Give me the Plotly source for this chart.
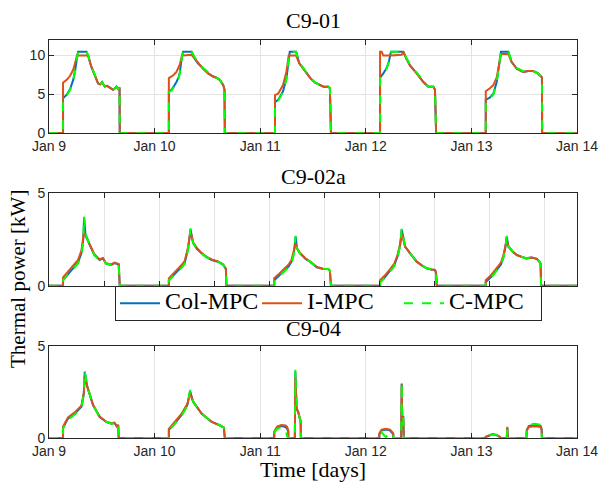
import plotly.graph_objects as go

# ---------------- data ----------------
tick_days = [9, 10, 11, 12, 13, 14]
tick_labels = ["Jan 9", "Jan 10", "Jan 11", "Jan 12", "Jan 13", "Jan 14"]
mid_ticks = [9.521, 10.043, 10.564, 11.085, 11.607, 12.128, 12.649, 13.171, 13.692]
panel_titles = ["C9-01", "C9-02a", "C9-04"]
series_names = ["Col-MPC", "I-MPC", "C-MPC"]
y_ranges = [[0, 12], [0, 5], [0, 5]]
y_ticks = [[0, 5, 10], [0, 5], [0, 5]]

# C9-01
t_c901 = [9.0, 9.133, 9.133, 9.17, 9.20, 9.23, 9.25, 9.265, 9.275, 9.355, 9.37, 9.40, 9.43, 9.465, 9.485, 9.503, 9.515, 9.528, 9.55, 9.575, 9.59, 9.607, 9.625, 9.639, 9.655, 9.668, 9.670,
          10.135, 10.135, 10.16, 10.18, 10.207, 10.23, 10.24, 10.26, 10.27, 10.35, 10.38, 10.41, 10.46, 10.507, 10.555, 10.587, 10.618, 10.65, 10.662, 10.665,
          11.14, 11.14, 11.17, 11.216, 11.248, 11.27, 11.28, 11.34, 11.37, 11.42, 11.475, 11.52, 11.566, 11.60, 11.645, 11.66, 11.67,
          12.135, 12.135, 12.15, 12.166, 12.197, 12.22, 12.238, 12.34, 12.356, 12.38, 12.42, 12.482, 12.545, 12.593, 12.64, 12.655, 12.666,
          13.136, 13.136, 13.175, 13.208, 13.24, 13.26, 13.28, 13.35, 13.38, 13.43, 13.49, 13.54, 13.587, 13.63, 13.655, 13.668, 13.67, 14.0]
col_c901 = [0, 0, 4.5, 5.0, 5.7, 6.9, 8.3, 9.7, 10.5, 10.5, 10.0, 8.6, 7.5, 6.4, 6.3, 6.6, 6.3, 6.0, 6.1, 5.9, 5.8, 5.6, 5.8, 6.0, 5.7, 5.9, 0,
            0, 5.4, 5.6, 6.0, 6.6, 7.3, 7.9, 10.0, 10.5, 10.5, 9.6, 9.0, 8.3, 7.7, 7.3, 7.15, 6.85, 6.2, 5.6, 0,
            0, 4.0, 4.3, 5.4, 7.0, 9.8, 10.5, 10.5, 9.0, 8.1, 7.1, 6.5, 6.2, 6.0, 6.0, 5.8, 0,
            0, 7.15, 7.4, 7.7, 8.4, 9.3, 10.5, 10.5, 10.5, 9.7, 8.7, 7.7, 6.6, 6.0, 6.0, 5.6, 0,
            0, 4.3, 4.6, 5.1, 6.6, 8.7, 10.5, 10.5, 9.2, 8.3, 7.9, 8.0, 8.0, 7.7, 7.4, 7.2, 0, 0]
imp_c901 = [0, 0, 6.5, 6.9, 7.4, 8.2, 9.2, 10.0, 10.0, 10.0, 10.0, 8.6, 7.5, 6.4, 6.3, 6.6, 6.3, 6.0, 6.1, 5.9, 5.8, 5.6, 5.8, 6.0, 5.7, 5.9, 0,
            0, 7.1, 7.3, 7.5, 7.9, 8.5, 8.9, 10.0, 10.0, 10.1, 9.6, 9.0, 8.3, 7.7, 7.3, 7.15, 6.85, 6.2, 5.6, 0,
            0, 4.9, 5.1, 6.2, 7.9, 10.0, 10.0, 10.0, 9.0, 8.1, 7.1, 6.5, 6.2, 6.0, 6.0, 5.8, 0,
            0, 10.5, 10.5, 10.0, 10.0, 10.0, 10.0, 10.1, 10.5, 9.7, 8.7, 7.7, 6.6, 6.0, 6.0, 5.6, 0,
            0, 5.4, 5.8, 6.2, 7.2, 9.0, 10.2, 10.2, 9.2, 8.3, 7.9, 8.0, 8.0, 7.7, 7.4, 7.2, 0, 0]
cmp_c901 = [0, 0, 4.5, 4.9, 5.6, 6.8, 8.2, 9.6, 10.5, 10.5, 10.1, 8.7, 7.6, 6.5, 6.3, 6.6, 6.3, 6.0, 6.1, 5.9, 5.8, 5.6, 5.8, 6.0, 5.7, 5.9, 0,
            0, 5.3, 5.5, 5.9, 6.5, 7.2, 7.8, 9.9, 10.5, 10.5, 9.7, 9.1, 8.4, 7.8, 7.3, 7.15, 6.9, 6.2, 5.6, 0,
            0, 3.9, 4.2, 5.3, 6.9, 9.7, 10.5, 10.5, 9.1, 8.2, 7.1, 6.5, 6.2, 6.0, 6.0, 5.8, 0,
            0, 7.1, 7.3, 7.6, 8.3, 9.2, 10.5, 10.5, 10.5, 9.8, 8.8, 7.8, 6.7, 6.0, 6.0, 5.6, 0,
            0, 4.2, 4.5, 5.0, 6.5, 8.6, 10.5, 10.5, 9.3, 8.4, 8.0, 8.1, 8.0, 7.7, 7.4, 7.2, 0, 0]

# C9-02a
t_c902 = [9.0, 9.133, 9.133, 9.17, 9.212, 9.25, 9.275, 9.307, 9.325, 9.332, 9.345, 9.386, 9.43, 9.48, 9.51, 9.54, 9.59, 9.62, 9.66, 9.67,
          10.135, 10.135, 10.18, 10.223, 10.26, 10.286, 10.317, 10.34, 10.365, 10.40, 10.444, 10.49, 10.54, 10.6, 10.65, 10.675, 10.68,
          11.133, 11.133, 11.18, 11.234, 11.27, 11.297, 11.32, 11.335, 11.35, 11.376, 11.43, 11.471, 11.535, 11.597, 11.645, 11.66, 11.67,
          12.135, 12.135, 12.18, 12.23, 12.27, 12.3, 12.325, 12.34, 12.372, 12.42, 12.482, 12.53, 12.577, 12.62, 12.655, 12.665, 12.672,
          13.136, 13.136, 13.19, 13.24, 13.28, 13.303, 13.32, 13.335, 13.35, 13.39, 13.43, 13.48, 13.52, 13.57, 13.62, 13.643, 13.655, 13.66, 14.0]
col_c902 = [0, 0, 0.3, 0.55, 0.8, 1.05, 1.25, 1.75, 2.5, 3.7, 2.8, 2.2, 1.66, 1.39, 1.48, 1.2, 1.12, 1.22, 1.15, 0,
            0, 0.3, 0.55, 0.8, 1.05, 1.25, 2.0, 3.05, 2.3, 2.0, 1.75, 1.55, 1.39, 1.3, 1.12, 0.9, 0,
            0, 0.3, 0.55, 0.85, 1.05, 1.3, 1.8, 2.65, 2.0, 1.75, 1.45, 1.3, 1.0, 0.9, 0.9, 0.8, 0,
            0, 0.2, 0.45, 0.8, 1.1, 1.57, 2.2, 3.05, 2.12, 1.75, 1.3, 1.1, 0.94, 0.88, 0.85, 0.7, 0,
            0, 0.2, 0.5, 0.85, 1.15, 1.57, 2.0, 2.65, 2.12, 1.85, 1.66, 1.55, 1.48, 1.53, 1.45, 1.3, 1.2, 0, 0]
imp_c902 = [0, 0, 0.45, 0.7, 0.95, 1.2, 1.4, 1.9, 2.7, 2.95, 2.7, 2.25, 1.7, 1.42, 1.5, 1.22, 1.15, 1.25, 1.18, 0,
            0, 0.4, 0.65, 0.9, 1.15, 1.35, 2.1, 2.95, 2.35, 2.05, 1.78, 1.58, 1.42, 1.32, 1.15, 0.92, 0,
            0, 0.4, 0.65, 0.95, 1.15, 1.4, 1.9, 2.3, 2.0, 1.78, 1.47, 1.32, 1.02, 0.92, 0.9, 0.8, 0,
            0, 0.3, 0.55, 0.9, 1.2, 1.65, 2.25, 2.8, 2.12, 1.75, 1.3, 1.1, 0.94, 0.88, 0.85, 0.7, 0,
            0, 0.3, 0.6, 0.95, 1.25, 1.65, 2.05, 2.5, 2.12, 1.85, 1.66, 1.55, 1.48, 1.53, 1.45, 1.3, 1.2, 0, 0]
cmp_c902 = [0, 0, 0.3, 0.52, 0.78, 1.0, 1.2, 1.7, 2.4, 3.75, 2.8, 2.2, 1.64, 1.38, 1.46, 1.2, 1.12, 1.22, 1.15, 0,
            0, 0.28, 0.52, 0.77, 1.0, 1.2, 1.95, 3.1, 2.3, 2.0, 1.75, 1.55, 1.39, 1.3, 1.12, 0.9, 0,
            0, 0.28, 0.52, 0.8, 1.0, 1.25, 1.75, 2.7, 2.0, 1.75, 1.45, 1.3, 1.0, 0.9, 0.9, 0.8, 0,
            0, 0.18, 0.42, 0.75, 1.05, 1.5, 2.15, 3.1, 2.12, 1.75, 1.3, 1.1, 0.94, 0.88, 0.85, 0.7, 0,
            0, 0.18, 0.45, 0.8, 1.1, 1.5, 1.95, 2.7, 2.12, 1.85, 1.66, 1.55, 1.48, 1.53, 1.45, 1.3, 1.2, 0, 0]

# C9-04
t_c904 = [9.0, 9.133, 9.133, 9.18, 9.25, 9.307, 9.33, 9.338, 9.363, 9.417, 9.48, 9.543, 9.59, 9.62, 9.645, 9.655, 9.66,
          10.135, 10.135, 10.19, 10.254, 10.31, 10.336, 10.365, 10.444, 10.54, 10.618, 10.656, 10.665,
          11.133, 11.133, 11.16, 11.2, 11.24, 11.255, 11.266, 11.266, 11.328, 11.333, 11.345, 11.36, 11.375, 11.383, 11.385,
          12.128, 12.128, 12.15, 12.19, 12.23, 12.26, 12.26, 12.335, 12.34, 12.345, 12.355, 12.36,
          13.136, 13.136, 13.17, 13.2, 13.24, 13.27, 13.27, 13.335, 13.34, 13.345, 13.52, 13.525, 13.545, 13.6, 13.655, 13.665, 13.668, 14.0]
col_c904 = [0, 0, 0.56, 1.05, 1.36, 1.69, 2.4, 3.59, 2.77, 1.78, 1.14, 0.87, 0.78, 0.81, 0.6, 0.7, 0,
            0, 0.45, 0.78, 1.23, 1.78, 2.55, 1.96, 1.32, 0.87, 0.69, 0.56, 0,
            0, 0.3, 0.55, 0.65, 0.6, 0.5, 0.35, 0, 0, 3.6, 1.6, 1.4, 1.0, 0.9, 0,
            0, 0.2, 0.4, 0.46, 0.4, 0.2, 0, 0, 2.95, 1.0, 1.2, 0,
            0, 0.05, 0.15, 0.2, 0.15, 0.05, 0, 0, 0.55, 0, 0, 0.45, 0.65, 0.7, 0.65, 0.5, 0, 0]
imp_c904 = [0, 0, 0.62, 1.12, 1.42, 1.75, 2.45, 3.3, 2.77, 1.8, 1.16, 0.88, 0.8, 0.83, 0.62, 0.72, 0,
            0, 0.5, 0.85, 1.3, 1.85, 2.4, 1.98, 1.34, 0.88, 0.7, 0.57, 0,
            0, 0.35, 0.62, 0.7, 0.68, 0.6, 0.4, 0, 0, 3.3, 1.6, 1.4, 1.0, 0.9, 0,
            0, 0.25, 0.45, 0.5, 0.45, 0.25, 0, 0, 2.9, 0.9, 1.0, 0,
            0, 0.07, 0.17, 0.22, 0.17, 0.07, 0, 0, 0.6, 0, 0, 0.4, 0.6, 0.64, 0.6, 0.45, 0, 0]
cmp_c904 = [0, 0, 0.52, 1.0, 1.3, 1.65, 2.35, 3.62, 2.8, 1.78, 1.14, 0.87, 0.78, 0.81, 0.6, 0.7, 0,
            0, 0.42, 0.75, 1.2, 1.74, 2.6, 1.96, 1.32, 0.87, 0.69, 0.56, 0,
            0, 0.3, 0.5, 0.58, 0.45, 0.1, 0, 0, 0, 3.7, 1.7, 1.4, 1.0, 0.9, 0,
            0, 0.2, 0.3, 0.05, 0.3, 0.2, 0, 0, 3.0, 1.0, 1.2, 0,
            0, 0.05, 0.15, 0.2, 0.15, 0.05, 0, 0, 0.5, 0, 0, 0.5, 0.72, 0.77, 0.72, 0.55, 0, 0]

# ---------------- figure ----------------
W, H = 598, 485
ML, MR, MT, MB = 49, 21, 40, 47
PH = H - MT - MB

def py(p):
    return (H - MB - p) / PH

def px(p):
    return (p - ML) / (W - ML - MR)

domains = [[py(133.3), 1.0], [py(285.7), py(193.3)], [0.0, py(345.7)]]
panels = [(t_c901, col_c901, imp_c901, cmp_c901),
          (t_c902, col_c902, imp_c902, cmp_c902),
          (t_c904, col_c904, imp_c904, cmp_c904)]
styles = [dict(color="#0072BD", width=2, dash="solid"),
          dict(color="#D95319", width=2, dash="solid"),
          dict(color="#00FF00", width=2, dash="dash")]

AX = "#262626"
GRID = "#e3e3e3"
tickfont = dict(family="Liberation Sans, Arial, sans-serif", size=14, color=AX)
serif = "Liberation Serif, Times New Roman, serif"

fig = go.Figure()
for i, (t, a, b, c) in enumerate(panels):
    sfx = "" if i == 0 else str(i + 1)
    for name, vals, st in zip(series_names, (a, b, c), styles):
        fig.add_trace(go.Scatter(x=t, y=vals, mode="lines",
                                 name='<span style="font-size:24px">%s</span>' % name,
                                 line=dict(color=st["color"], width=st["width"], dash=st["dash"]),
                                 showlegend=(i == 0), legendgroup=name,
                                 xaxis="x" + sfx, yaxis="y" + sfx))
    xa = dict(domain=[0, 1], range=[9, 14], anchor="y" + sfx, automargin=False,
              showgrid=True, gridcolor=GRID, gridwidth=1, zeroline=False,
              showline=True, linecolor=AX, linewidth=1, mirror="ticks",
              ticks="inside", ticklen=5, tickcolor=AX, tickfont=tickfont,
              ticklabeloverflow="allow")
    if i == 1:
        xa.update(tickvals=mid_ticks, showticklabels=False)
    else:
        xa.update(tickvals=tick_days, ticktext=tick_labels)
    ya = dict(domain=domains[i], range=y_ranges[i], anchor="x" + sfx, automargin=False,
              tickvals=y_ticks[i], showgrid=True, gridcolor=GRID, zeroline=False,
              showline=True, linecolor=AX, linewidth=1, mirror="ticks",
              ticks="inside", ticklen=5, tickcolor=AX, tickfont=tickfont)
    fig.update_layout(**{"xaxis" + sfx: xa, "yaxis" + sfx: ya})

title_y = [21, 176, 328]
annotations = []
for ttl, ty in zip(panel_titles, title_y):
    annotations.append(dict(text=ttl, x=0.5, y=py(ty), xref="paper", yref="paper",
                            xanchor="center", yanchor="middle", showarrow=False,
                            font=dict(family=serif, size=22, color="#000000")))
annotations.append(dict(text="Time [days]", x=0.5, y=py(469), xref="paper", yref="paper",
                        xanchor="center", yanchor="middle", showarrow=False,
                        font=dict(family=serif, size=22, color="#000000")))
annotations.append(dict(text="Thermal power [kW]", x=px(18), y=py(279), xref="paper", yref="paper",
                        xanchor="center", yanchor="middle", showarrow=False, textangle=-90,
                        font=dict(family=serif, size=21, color="#000000")))

fig.update_layout(
    width=W, height=H,
    margin=dict(l=ML, r=MR, t=MT, b=MB, pad=0),
    paper_bgcolor="white", plot_bgcolor="white",
    annotations=annotations,
    legend=dict(orientation="h", x=px(115), y=py(286), xanchor="left", yanchor="top",
                bgcolor="white", bordercolor=AX, borderwidth=1,
                font=dict(family=serif, size=15, color="#000000"),
                entrywidth=87, entrywidthmode="pixels",
                itemwidth=40, tracegroupgap=0),
    showlegend=True,
)

fig.write_html("out.html", config={"displayModeBar": False},
               post_script="document.body.style.margin='0';document.body.style.padding='0';")
